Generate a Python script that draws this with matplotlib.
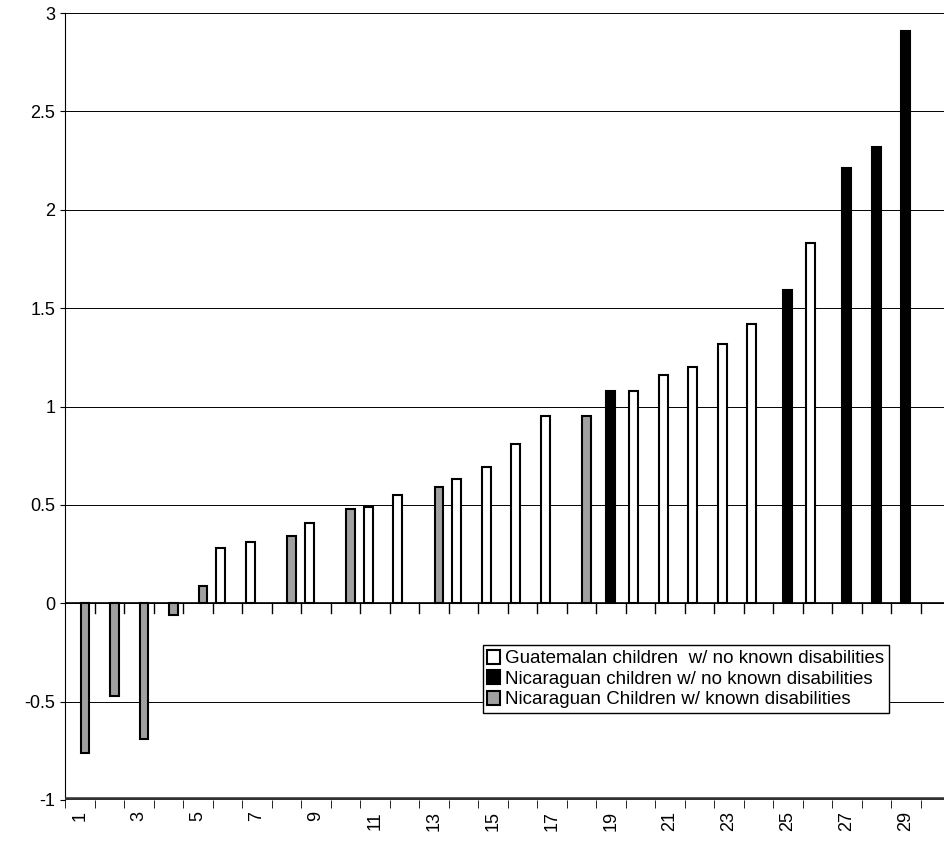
import matplotlib.pyplot as plt
import numpy as np

plt.rcParams['font.family'] = ['Liberation Sans', 'DejaVu Sans']

categories = list(range(1, 31))
guatemalan = {6: 0.28, 7: 0.31, 9: 0.41, 11: 0.49, 12: 0.55, 14: 0.63, 15: 0.69,
              16: 0.81, 17: 0.95, 20: 1.08, 21: 1.16, 22: 1.20, 23: 1.32, 24: 1.42, 26: 1.83}
nicaraguan = {19: 1.08, 25: 1.59, 27: 2.21, 28: 2.32, 29: 2.91}
disabled = {1: -0.76, 2: -0.47, 3: -0.69, 4: -0.06, 5: 0.09, 8: 0.34, 10: 0.48,
            13: 0.59, 18: 0.95}

fig = plt.figure(figsize=(9.44, 8.41), dpi=100)
ax = fig.add_axes([65/944, 41/841, 885/944, 787/841])

w = 0.3
ax.bar([k - 0.22 for k in guatemalan], list(guatemalan.values()), width=w,
       color='white', edgecolor='black', linewidth=1.5, zorder=3,
       label='Guatemalan children  w/ no known disabilities')
ax.bar([k + 0.0 for k in nicaraguan], list(nicaraguan.values()), width=w,
       color='black', edgecolor='black', linewidth=1.5, zorder=3,
       label='Nicaraguan children w/ no known disabilities')
ax.bar([k + 0.18 for k in disabled], list(disabled.values()), width=w,
       color='#a0a0a0', edgecolor='black', linewidth=1.5, zorder=3,
       label='Nicaraguan Children w/ known disabilities')

ax.set_xlim(0.5, 30.5)
ax.set_ylim(-1, 3)
ax.set_yticks(np.arange(-1, 3.01, 0.5))
ax.set_yticklabels(['-1', '-0.5', '0', '0.5', '1', '1.5', '2', '2.5', '3'], fontsize=13)
ax.yaxis.grid(True, color='black', linewidth=0.7, zorder=0)
ax.axhline(0, color='black', linewidth=1.2, zorder=2)
for b in np.arange(1.5, 30.5, 1):
    ax.plot([b, b], [0, -0.05], color='black', linewidth=1, zorder=2)
ax.axhline(-1, color='#333333', linewidth=4, zorder=4)

ax.set_xticks(categories[::2])
ax.set_xticklabels([str(c) for c in categories[::2]], rotation=90, fontsize=13)
ax.set_xticks(np.arange(0.5, 31, 1), minor=True)
ax.tick_params(axis='x', which='major', length=0, pad=8)
ax.tick_params(axis='x', which='minor', length=6)
for s in ['top', 'right', 'bottom']:
    ax.spines[s].set_visible(False)

leg = ax.legend(loc='upper left', bbox_to_anchor=(0.472, 0.197), fontsize=13.5,
                frameon=True, fancybox=False, edgecolor='black', framealpha=1,
                handlelength=0.65, handleheight=0.8, handletextpad=0.3,
                borderpad=0.25, labelspacing=0.15, borderaxespad=0)
leg.get_frame().set_linewidth(1)
leg.set_zorder(10)

fig.savefig('out.png', dpi=100)
